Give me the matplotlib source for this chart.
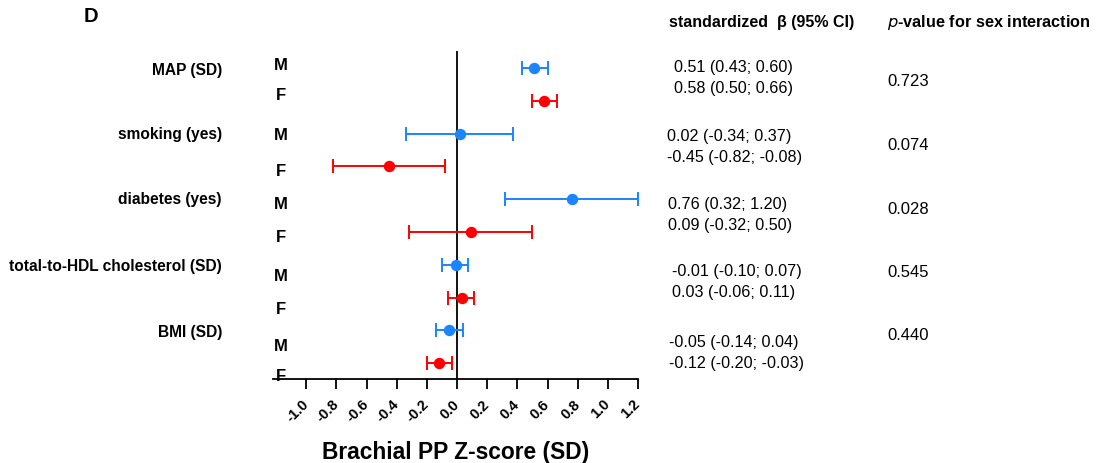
import matplotlib
matplotlib.use("Agg")
import matplotlib.pyplot as plt

plt.rcParams['font.family'] = ['Liberation Sans', 'DejaVu Sans']
plt.rcParams['axes.unicode_minus'] = False

# Risk factors and sex-specific standardized betas with 95% CI
categories = ["MAP (SD)", "smoking (yes)", "diabetes (yes)",
              "total-to-HDL cholesterol (SD)", "BMI (SD)"]
male_beta = [0.51, 0.02, 0.76, -0.01, -0.05]
male_lo = [0.43, -0.34, 0.32, -0.10, -0.14]
male_hi = [0.60, 0.37, 1.20, 0.07, 0.04]
female_beta = [0.58, -0.45, 0.09, 0.03, -0.12]
female_lo = [0.50, -0.82, -0.32, -0.06, -0.20]
female_hi = [0.66, -0.08, 0.50, 0.11, -0.03]
p_interaction = ["0.723", "0.074", "0.028", "0.545", "0.440"]
xticks = [-1.0, -0.8, -0.6, -0.4, -0.2, 0.0, 0.2, 0.4, 0.6, 0.8, 1.0, 1.2]

BLUE = "#1a85ff"
RED = "#ff0000"

W, H = 1103, 464
fig = plt.figure(figsize=(W / 100, H / 100), dpi=100)


def fx(px):
    return px / W


def fy(py):
    return 1 - py / H


# axes box in pixel coordinates
ax_l, ax_r, ax_t, ax_b = 273, 638, 51.7, 380
ax = fig.add_axes([fx(ax_l), fy(ax_b), fx(ax_r - ax_l), (ax_b - ax_t) / H])

n = len(categories)
y_m = [2 * (n - 1 - i) + 1 for i in range(n)]
y_f = [2 * (n - 1 - i) for i in range(n)]

for ys, b, lo, hi, col in [(y_m, male_beta, male_lo, male_hi, BLUE),
                           (y_f, female_beta, female_lo, female_hi, RED)]:
    xerr = [[bb - l for bb, l in zip(b, lo)], [h - bb for bb, h in zip(b, hi)]]
    ax.errorbar(b, ys, xerr=xerr, fmt='o', color=col, ecolor=col,
                markersize=7.2, elinewidth=1.4, capsize=5, capthick=1.4,
                zorder=3)

ax.axvline(0, color='black', lw=1.3, zorder=2)
ax.set_xlim(-1.22, 1.2)
ax.set_ylim(-0.48, 9.53)
ax.set_yticks([])
for s in ['top', 'right', 'left']:
    ax.spines[s].set_visible(False)
ax.spines['bottom'].set_linewidth(1.3)
ax.set_xticks(xticks)
ax.set_xticklabels([f"{t:.1f}" for t in xticks], rotation=45, ha='right',
                   va='center', rotation_mode='anchor', fontsize=10.5,
                   fontweight='bold')
ax.tick_params(axis='x', length=7, width=1.3, pad=9)
ax.set_xlabel("Brachial PP Z-score (SD)", fontsize=16.4, fontweight='bold',
              labelpad=11)

# panel letter
fig.text(fx(84), fy(17), "D", fontsize=14.5, fontweight='bold',
         ha='left', va='center')

# row labels
cat_y = [70, 135, 200, 267, 332]
for c, py in zip(categories, cat_y):
    fig.text(fx(222), fy(py), c, fontsize=11.2, fontweight='bold',
             ha='right', va='center')

m_lab_y = [65, 135, 205, 277, 347]
f_lab_y = [95, 172, 238, 310, 377]
for py in m_lab_y:
    fig.text(fx(281), fy(py), "M", fontsize=12, fontweight='bold',
             ha='center', va='center')
for py in f_lab_y:
    fig.text(fx(281), fy(py), "F", fontsize=12, fontweight='bold',
             ha='center', va='center')

# estimate and p-value columns
fig.text(fx(669), fy(23), "standardized  \u03b2 (95% CI)", fontsize=11.5,
         fontweight='bold', ha='left', va='center')
fig.text(fx(887), fy(22), r"$\bf{\it{p}}$" + "-value for sex interaction",
         fontsize=11.7, fontweight='bold', ha='left', va='center')

ci_x = [674, 667, 668, 672, 669]
ci_y_m = [67.7, 136.7, 205, 271.7, 343]
ci_y_f = [89, 157.7, 226, 292.7, 364]
for i in range(n):
    fig.text(fx(ci_x[i]), fy(ci_y_m[i]),
             f"{male_beta[i]:.2f} ({male_lo[i]:.2f}; {male_hi[i]:.2f})",
             fontsize=11.6, ha='left', va='center')
    fig.text(fx(ci_x[i]), fy(ci_y_f[i]),
             f"{female_beta[i]:.2f} ({female_lo[i]:.2f}; {female_hi[i]:.2f})",
             fontsize=11.6, ha='left', va='center')

p_y = [82, 145.7, 209.7, 272.7, 336]
for p, py in zip(p_interaction, p_y):
    fig.text(fx(887), fy(py), p, fontsize=12, ha='left', va='center')

fig.savefig("out.png", dpi=100)
